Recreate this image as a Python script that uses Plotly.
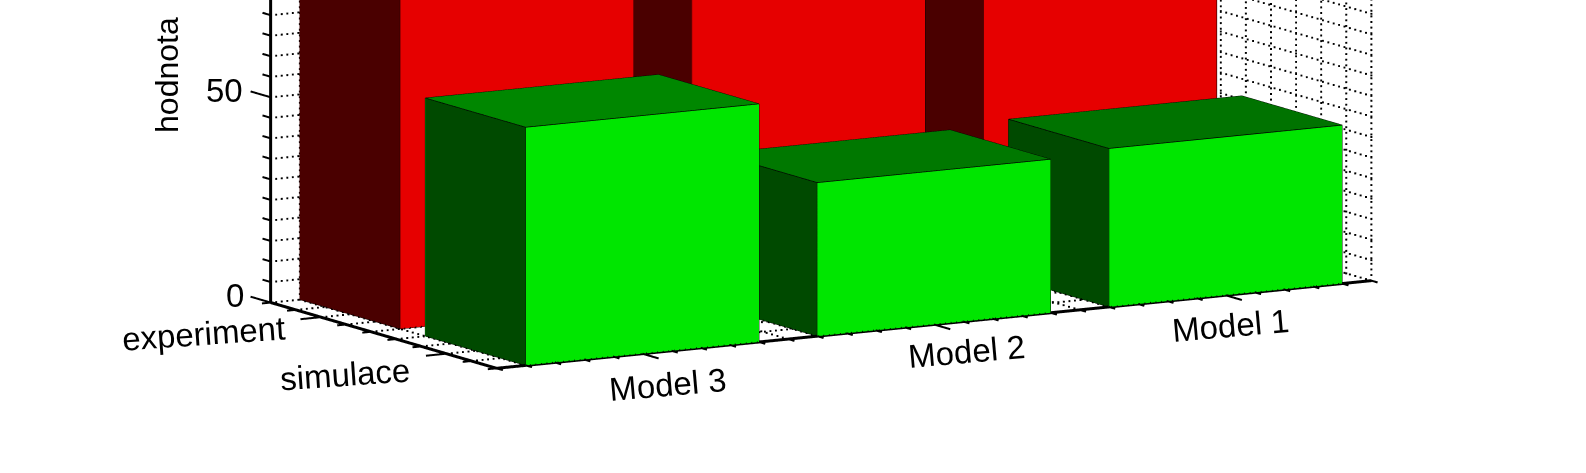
import numpy as np
import plotly.graph_objects as go

# ---- data ----
models = ["Model 1", "Model 2", "Model 3"]
groups = ["experiment", "simulace"]
experiment = [90, 90, 90]
simulace = [38.6, 37.4, 58]
z_labels = [0, 50, 100]
green_tops = ["rgb(0,115,0)", "rgb(0,120,0)", "rgb(0,135,0)"]
red_tops = ["rgb(140,0,0)"] * 3

# ---- axis ranges of the box ----
xlim = (0.5, 3.5)
ylim = (0.6, 2.4)
zlim = (0, 100)
pad = {"x": (0.3, 3.7), "y": (0.35, 2.65), "z": (-5, 105)}
BAR = 0.4

# ---- view (orthographic) ----
sin_el, phi = 0.1708, np.radians(59.6)
el = np.arcsin(sin_el)
PX = {"x": 334.3, "y": 245.2, "z": 4.12}   # px per data unit along each axis
NORM = 233.85     # px per scene unit
DIST = 2.0
ASPECT = {k: PX[k] * (pad[k][1] - pad[k][0]) / NORM for k in PX}
d = np.array([np.cos(phi) * np.cos(el), np.sin(phi) * np.cos(el), np.sin(el)])
r = np.array([-np.sin(phi), np.cos(phi), 0.0])
u = np.array([-np.sin(el) * np.cos(phi), -np.sin(el) * np.sin(phi), np.cos(el)])
OFFSET_R, OFFSET_U = 27.7, 148.5
center = -(OFFSET_R / NORM) * r - (OFFSET_U / NORM) * u
eye = center + DIST * d

FRONT_RED, SIDE_RED = "rgb(230,0,0)", "rgb(74,0,0)"
FRONT_GREEN, SIDE_GREEN = "rgb(0,230,0)", "rgb(0,74,0)"


def bar_mesh(values, yc, front, side, tops):
    vx, vy, vz, I, J, K, fc = [], [], [], [], [], [], []
    ex, ey, ez = [], [], []
    for i, v in enumerate(values):
        xc = i + 1
        x0, x1, y0, y1 = xc - BAR, xc + BAR, yc - BAR, yc + BAR
        c = [(x0, y0, 0), (x1, y0, 0), (x1, y1, 0), (x0, y1, 0),
             (x0, y0, v), (x1, y0, v), (x1, y1, v), (x0, y1, v)]
        b = len(vx)
        for p in c:
            vx.append(p[0]); vy.append(p[1]); vz.append(p[2])
        faces = [((3, 2, 6, 7), front), ((0, 1, 5, 4), front),
                 ((1, 2, 6, 5), side), ((0, 3, 7, 4), side),
                 ((4, 5, 6, 7), tops[i]), ((0, 1, 2, 3), tops[i])]
        for (a, e, f, g), col in faces:
            I += [b + a, b + a]; J += [b + e, b + f]; K += [b + f, b + g]
            fc += [col, col]
        for a, e in [(0, 1), (1, 2), (2, 3), (3, 0), (4, 5), (5, 6), (6, 7), (7, 4),
                     (0, 4), (1, 5), (2, 6), (3, 7)]:
            ex += [c[a][0], c[e][0], None]
            ey += [c[a][1], c[e][1], None]
            ez += [c[a][2], c[e][2], None]
    mesh = go.Mesh3d(x=vx, y=vy, z=vz, i=I, j=J, k=K, facecolor=fc, flatshading=True,
                     lighting=dict(ambient=1, diffuse=0, specular=0, roughness=1, fresnel=0),
                     hoverinfo="skip", showscale=False)
    edges = go.Scatter3d(x=ex, y=ey, z=ez, mode="lines", line=dict(color="black", width=1.5),
                         hoverinfo="skip", showlegend=False)
    return mesh, edges


def segs(pairs, width):
    xs, ys, zs = [], [], []
    for a, b in pairs:
        xs += [a[0], b[0], None]; ys += [a[1], b[1], None]; zs += [a[2], b[2], None]
    return go.Scatter3d(x=xs, y=ys, z=zs, mode="lines",
                        line=dict(color="black", width=width),
                        hoverinfo="skip", showlegend=False)


def dotted(pairs, step_px=5.5):
    xs, ys, zs = [], [], []
    for a, b in pairs:
        a, b = np.array(a, float), np.array(b, float)
        dv = (b - a) * np.array([PX["x"], PX["y"], PX["z"]])
        length = np.hypot(dv @ r, dv @ u)
        n = max(int(length / step_px), 1)
        t = np.linspace(0, 1, n + 1)
        xs += list(a[0] + t * (b[0] - a[0]))
        ys += list(a[1] + t * (b[1] - a[1]))
        zs += list(a[2] + t * (b[2] - a[2]))
    return go.Scatter3d(x=xs, y=ys, z=zs, mode="markers",
                        marker=dict(color="black", size=1, symbol="square", line=dict(width=0)),
                        hoverinfo="skip", showlegend=False)


xt = np.round(np.arange(0.5, 3.51, 0.1), 2)
yt = np.round(np.arange(0.6, 2.41, 0.2), 2)
zt = np.arange(0, 101, 5)
X0, X1 = xlim; Y0, Y1 = ylim; Z0, Z1 = zlim

grid = []
for z in zt:
    grid.append(((X0, Y0, z), (X1, Y0, z)))
    grid.append(((X0, Y0, z), (X0, Y1, z)))
for x in xt:
    grid.append(((x, Y0, Z0), (x, Y0, Z1)))
    grid.append(((x, Y0, Z0), (x, Y1, Z0)))
for y in yt:
    grid.append(((X0, y, Z0), (X0, y, Z1)))
    grid.append(((X0, y, Z0), (X1, y, Z0)))

axes_lines = [((X1, Y0, Z0), (X1, Y0, Z1)), ((X0, Y1, Z0), (X1, Y1, Z0)), ((X1, Y0, Z0), (X1, Y1, Z0))]
ticks = []
for z in zt:
    L = 0.16 if z % 50 == 0 else 0.065
    ticks.append(((X1, Y0, z), (X1, Y0 - L, z)))
for x in xt:
    L = 0.13 if abs(x - round(x)) < 1e-6 else 0.05
    ticks.append(((x, Y1, Z0), (x, Y1 + L, Z0)))
for y in yt:
    L = 0.07 if abs(y - round(y)) < 1e-6 else 0.03
    ticks.append(((X1, y, Z0), (X1 + L, y, Z0)))

m1, e1 = bar_mesh(experiment, 1, FRONT_RED, SIDE_RED, red_tops)
m2, e2 = bar_mesh(simulace, 2, FRONT_GREEN, SIDE_GREEN, green_tops)
fig = go.Figure([m1, e1, m2, e2, dotted(grid), segs(axes_lines, 6), segs(ticks, 4)])

FONT = dict(family="Liberation Sans", size=33, color="black")
TITLE_FONT = dict(family="Liberation Sans", size=32, color="black")
model_shift = [(4.5, -30.5), (32.5, -27.5), (25.5, -30.5)]
group_shift = [(-117.6, -16.6), (-101.8, -20.5)]
z_shift = {0: (-36, 7), 50: (-46, 7), 100: (-46, 7)}
ann = []
for i, m in enumerate(models):
    ann.append(dict(x=i + 1, y=Y1, z=0, text=m, showarrow=False, textangle=-5, font=FONT,
                    xshift=model_shift[i][0], yshift=model_shift[i][1]))
for j, g in enumerate(groups):
    ann.append(dict(x=X1, y=j + 1, z=0, text=g, showarrow=False, textangle=-4, font=FONT,
                    xshift=group_shift[j][0], yshift=group_shift[j][1]))
for z in z_labels:
    ann.append(dict(x=X1, y=Y0, z=z, text=str(z), showarrow=False, font=FONT,
                    xshift=z_shift[z][0], yshift=z_shift[z][1]))
ann.append(dict(x=X1, y=Y0, z=50, text="hodnota \u2002(%)", showarrow=False, textangle=-90, font=TITLE_FONT,
                xshift=-103, yshift=59))

ax = dict(visible=False, showspikes=False)
fig.update_layout(
    width=1586, height=473, margin=dict(l=0, r=0, t=0, b=0), paper_bgcolor="white", showlegend=False,
    scene=dict(
        domain=dict(x=[0, 1], y=[0, 1]),
        xaxis=dict(range=pad["x"], **ax), yaxis=dict(range=pad["y"], **ax), zaxis=dict(range=pad["z"], **ax),
        aspectmode="manual", aspectratio=dict(x=ASPECT["x"], y=ASPECT["y"], z=ASPECT["z"]),
        camera=dict(projection=dict(type="orthographic"),
                    eye=dict(x=eye[0], y=eye[1], z=eye[2]),
                    center=dict(x=center[0], y=center[1], z=center[2]),
                    up=dict(x=0, y=0, z=1)),
        annotations=ann,
    ),
)
fig.write_html("out.html", config=dict(displayModeBar=False),
               post_script="document.body.style.margin='0';document.body.style.overflow='hidden';")
